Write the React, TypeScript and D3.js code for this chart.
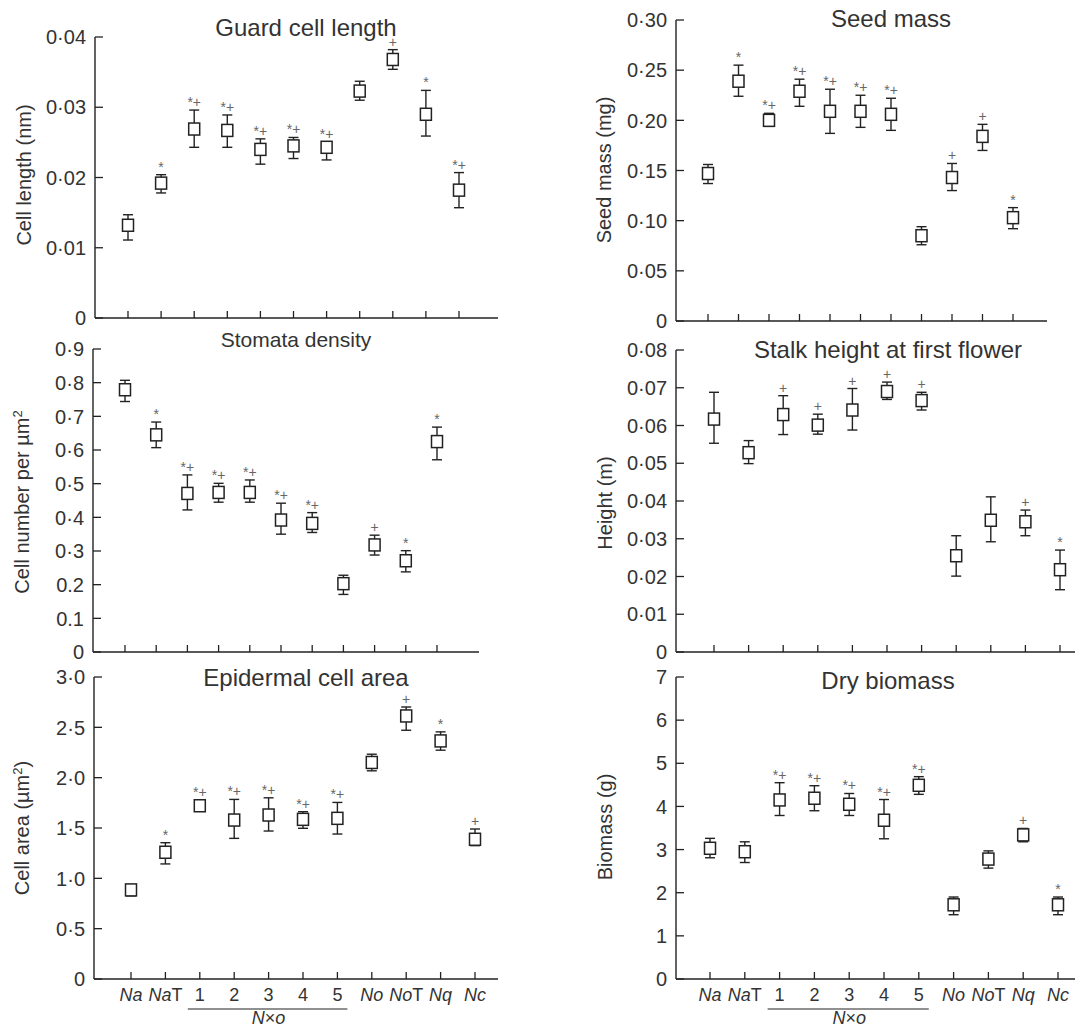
import React from "react";
import * as d3 from "d3";

const FONT = '"Liberation Sans", Arial, Helvetica, sans-serif';

// categories on every x axis
const categories = ["Na", "NaT", "1", "2", "3", "4", "5", "No", "NoT", "Nq", "Nc"];

// Guard cell length (nm)
const guardMean = [0.0132, 0.0192, 0.0269, 0.0267, 0.024, 0.0245, 0.0243, 0.0323, 0.0368, 0.029, 0.0182];
const guardLow = [0.0111, 0.0178, 0.0243, 0.0243, 0.0219, 0.0227, 0.0225, 0.031, 0.0354, 0.0259, 0.0157];
const guardHigh = [0.0147, 0.0204, 0.0296, 0.0289, 0.0255, 0.0257, 0.0251, 0.0337, 0.0382, 0.0324, 0.0207];
const guardSig = ["", "*", "*+", "*+", "*+", "*+", "*+", "", "+", "*", "*+"];

// Seed mass (mg)
const seedMean = [0.147, 0.239, 0.2, 0.229, 0.209, 0.209, 0.206, 0.085, 0.143, 0.184, 0.103];
const seedLow = [0.137, 0.224, 0.194, 0.214, 0.187, 0.193, 0.19, 0.076, 0.13, 0.17, 0.092];
const seedHigh = [0.156, 0.255, 0.207, 0.241, 0.231, 0.225, 0.222, 0.094, 0.157, 0.196, 0.113];
const seedSig = ["", "*", "*+", "*+", "*+", "*+", "*+", "", "+", "+", "*"];

// Stomata density (cell number per µm²)
const stomataMean = [0.779, 0.645, 0.471, 0.474, 0.474, 0.392, 0.382, 0.203, 0.318, 0.271, 0.625];
const stomataLow = [0.744, 0.607, 0.422, 0.445, 0.445, 0.35, 0.355, 0.171, 0.288, 0.238, 0.571];
const stomataHigh = [0.807, 0.683, 0.526, 0.501, 0.511, 0.442, 0.414, 0.228, 0.347, 0.301, 0.668];
const stomataSig = ["", "*", "*+", "*+", "*+", "*+", "*+", "", "+", "*", "*"];

// Stalk height at first flower (m)
const stalkMean = [0.0617, 0.0528, 0.0629, 0.0601, 0.0641, 0.069, 0.0666, 0.0255, 0.0349, 0.0345, 0.0218];
const stalkLow = [0.0553, 0.0499, 0.0576, 0.0577, 0.0588, 0.0669, 0.0641, 0.0201, 0.0292, 0.0308, 0.0165];
const stalkHigh = [0.0688, 0.056, 0.0679, 0.063, 0.0698, 0.0715, 0.0688, 0.0308, 0.0411, 0.0376, 0.027];
const stalkSig = ["", "", "+", "+", "+", "+", "+", "", "", "+", "*"];

// Epidermal cell area (µm²)
const areaMean = [0.885, 1.259, 1.721, 1.579, 1.629, 1.586, 1.596, 2.151, 2.613, 2.365, 1.388];
const areaLow = [0.826, 1.143, 1.672, 1.397, 1.47, 1.497, 1.44, 2.068, 2.471, 2.273, 1.325];
const areaHigh = [0.935, 1.354, 1.777, 1.784, 1.8, 1.662, 1.754, 2.233, 2.702, 2.455, 1.49];
const areaSig = ["", "*", "*+", "*+", "*+", "*+", "*+", "", "+", "*", "+"];

// Dry biomass (g)
const biomassMean = [3.03, 2.95, 4.15, 4.19, 4.05, 3.68, 4.49, 1.72, 2.78, 3.34, 1.72];
const biomassLow = [2.81, 2.7, 3.79, 3.9, 3.79, 3.25, 4.28, 1.49, 2.57, 3.18, 1.49];
const biomassHigh = [3.26, 3.18, 4.55, 4.48, 4.3, 4.16, 4.69, 1.9, 2.97, 3.49, 1.9];
const biomassSig = ["", "", "*+", "*+", "*+", "*+", "*+", "", "", "+", "*"];

// y tick values and labels
const guardTicks = [0, 0.01, 0.02, 0.03, 0.04];
const guardTickLabels = ["0", "0·01", "0·02", "0·03", "0·04"];
const seedTicks = [0, 0.05, 0.1, 0.15, 0.2, 0.25, 0.3];
const seedTickLabels = ["0", "0·05", "0·10", "0·15", "0·20", "0·25", "0·30"];
const stomataTicks = [0, 0.1, 0.2, 0.3, 0.4, 0.5, 0.6, 0.7, 0.8, 0.9];
const stomataTickLabels = ["0", "0.1", "0.2", "0·3", "0·4", "0·5", "0·6", "0·7", "0·8", "0·9"];
const stalkTicks = [0, 0.01, 0.02, 0.03, 0.04, 0.05, 0.06, 0.07, 0.08];
const stalkTickLabels = ["0", "0·01", "0·02", "0·03", "0·04", "0·05", "0·06", "0·07", "0·08"];
const areaTicks = [0, 0.5, 1, 1.5, 2, 2.5, 3];
const areaTickLabels = ["0", "0·5", "1·0", "1·5", "2·0", "2·5", "3·0"];
const biomassTicks = [0, 1, 2, 3, 4, 5, 6, 7];
const biomassTickLabels = ["0", "1", "2", "3", "4", "5", "6", "7"];

const INK = "#222";
const TEXT = "#333";

type Layout = {
  axisX: number; xEnd: number; yTop: number; yBottom: number;
  x0: number; x1: number;
  titleX: number; titleY: number; titleSize: number;
  labelX: number; labelY: number;
};

function CatLabel({ c, x, y }: { c: string; x: number; y: number }) {
  const isName = c.startsWith("N");
  return (
    <text x={x} y={y} textAnchor="middle" fontSize={18} fill={TEXT} fontFamily={FONT}>
      {isName ? (
        <>
          <tspan fontStyle="italic">{c.slice(0, 2)}</tspan>
          {c.length > 2 && <tspan>{c.slice(2)}</tspan>}
        </>
      ) : (
        c
      )}
    </text>
  );
}

function Panel({
  L, title, yLabel, ticks, tickLabels, mean, low, high, sig, showCats,
}: {
  L: Layout; title: string; yLabel: React.ReactNode; ticks: number[]; tickLabels: string[];
  mean: number[]; low: number[]; high: number[]; sig: string[]; showCats: boolean;
}) {
  const y = d3.scaleLinear().domain([0, ticks[ticks.length - 1]]).range([L.yBottom, L.yTop]);
  const x = d3.scalePoint<string>().domain(categories).range([L.x0, L.x1]);
  const boxW = 11, boxH = 12, cap = 5;
  return (
    <g>
      <text x={L.titleX} y={L.titleY} textAnchor="middle" fontSize={L.titleSize} fill={TEXT} fontFamily={FONT}>
        {title}
      </text>
      <text
        transform={`translate(${L.labelX},${L.labelY}) rotate(-90)`}
        textAnchor="middle" fontSize={20} fill={TEXT} fontFamily={FONT} dy="0.35em"
      >
        {yLabel}
      </text>
      {/* axes */}
      <line x1={L.axisX} x2={L.axisX} y1={L.yTop} y2={L.yBottom} stroke={INK} strokeWidth={1.4} />
      <line x1={L.axisX} x2={L.xEnd} y1={L.yBottom} y2={L.yBottom} stroke={INK} strokeWidth={1.4} />
      {ticks.map((t, i) => (
        <g key={t}>
          <line x1={L.axisX} x2={L.axisX + 8} y1={y(t)} y2={y(t)} stroke={INK} strokeWidth={1.3} />
          <text x={L.axisX - 9} y={y(t)} dy="0.36em" textAnchor="end" fontSize={20} fill={TEXT} fontFamily={FONT}>
            {tickLabels[i]}
          </text>
        </g>
      ))}
      {categories.map((c) => (
        <line key={c} x1={x(c)} x2={x(c)} y1={L.yBottom} y2={L.yBottom - 7} stroke={INK} strokeWidth={1.3} />
      ))}
      {showCats && (
        <g>
          {categories.map((c) => (
            <CatLabel key={c} c={c} x={x(c)!} y={L.yBottom + 22} />
          ))}
          <line x1={x("1")! - 12} x2={x("5")! + 10} y1={L.yBottom + 30} y2={L.yBottom + 30} stroke={INK} strokeWidth={1.2} />
          <text x={(x("1")! + x("5")!) / 2} y={L.yBottom + 45} textAnchor="middle" fontSize={18} fill={TEXT} fontFamily={FONT}>
            <tspan fontStyle="italic">N</tspan>
            <tspan>×</tspan>
            <tspan fontStyle="italic">o</tspan>
          </text>
        </g>
      )}
      {/* error bars and mean markers */}
      {categories.map((c, i) => {
        const cx = x(c)!;
        return (
          <g key={c}>
            <line x1={cx} x2={cx} y1={y(high[i])} y2={y(low[i])} stroke={INK} strokeWidth={1.4} />
            <line x1={cx - cap} x2={cx + cap} y1={y(high[i])} y2={y(high[i])} stroke={INK} strokeWidth={1.4} />
            <line x1={cx - cap} x2={cx + cap} y1={y(low[i])} y2={y(low[i])} stroke={INK} strokeWidth={1.4} />
            <rect x={cx - boxW / 2} y={y(mean[i]) - boxH / 2} width={boxW} height={boxH} fill="#fff" stroke={INK} strokeWidth={1.5} />
            {sig[i] && (
              <text x={cx} y={y(high[i]) - 3} textAnchor="middle" fontSize={14} fill="#666" fontFamily={FONT}>
                {sig[i]}
              </text>
            )}
          </g>
        );
      })}
    </g>
  );
}

const sup = (base: string, after: string) => (
  <>
    {base}
    <tspan dy={-7} fontSize={13}>2</tspan>
    <tspan dy={7}>{after}</tspan>
  </>
);

export default function App() {
  return (
    <svg
      width={1075}
      height={1034}
      style={{ position: "absolute", left: 0, top: 0, background: "#fff" }}
    >
      <rect width={1075} height={1034} fill="#fff" />
      <Panel
        L={{ axisX: 95, xEnd: 498, yTop: 37, yBottom: 318, x0: 128, x1: 459, titleX: 306, titleY: 36, titleSize: 24, labelX: 24, labelY: 175 }}
        title="Guard cell length" yLabel="Cell length (nm)"
        ticks={guardTicks} tickLabels={guardTickLabels}
        mean={guardMean} low={guardLow} high={guardHigh} sig={guardSig} showCats={false}
      />
      <Panel
        L={{ axisX: 676, xEnd: 1047, yTop: 20, yBottom: 321, x0: 708, x1: 1013, titleX: 891, titleY: 27, titleSize: 24, labelX: 604, labelY: 170 }}
        title="Seed mass" yLabel="Seed mass (mg)"
        ticks={seedTicks} tickLabels={seedTickLabels}
        mean={seedMean} low={seedLow} high={seedHigh} sig={seedSig} showCats={false}
      />
      <Panel
        L={{ axisX: 93, xEnd: 479, yTop: 349, yBottom: 652, x0: 125, x1: 437, titleX: 296, titleY: 347, titleSize: 21, labelX: 22, labelY: 502 }}
        title="Stomata density" yLabel={sup("Cell number per µm", "")}
        ticks={stomataTicks} tickLabels={stomataTickLabels}
        mean={stomataMean} low={stomataLow} high={stomataHigh} sig={stomataSig} showCats={false}
      />
      <Panel
        L={{ axisX: 676, xEnd: 1075, yTop: 350, yBottom: 652, x0: 714, x1: 1060, titleX: 888, titleY: 358, titleSize: 24, labelX: 605, labelY: 503 }}
        title="Stalk height at first flower" yLabel="Height (m)"
        ticks={stalkTicks} tickLabels={stalkTickLabels}
        mean={stalkMean} low={stalkLow} high={stalkHigh} sig={stalkSig} showCats={false}
      />
      <Panel
        L={{ axisX: 94, xEnd: 498, yTop: 677, yBottom: 979, x0: 131, x1: 475, titleX: 306, titleY: 686, titleSize: 24, labelX: 22, labelY: 828 }}
        title="Epidermal cell area" yLabel={sup("Cell area (µm", ")")}
        ticks={areaTicks} tickLabels={areaTickLabels}
        mean={areaMean} low={areaLow} high={areaHigh} sig={areaSig} showCats={true}
      />
      <Panel
        L={{ axisX: 676, xEnd: 1075, yTop: 677, yBottom: 979, x0: 710, x1: 1058, titleX: 888, titleY: 689, titleSize: 24, labelX: 605, labelY: 827 }}
        title="Dry biomass" yLabel="Biomass (g)"
        ticks={biomassTicks} tickLabels={biomassTickLabels}
        mean={biomassMean} low={biomassLow} high={biomassHigh} sig={biomassSig} showCats={true}
      />
    </svg>
  );
}
